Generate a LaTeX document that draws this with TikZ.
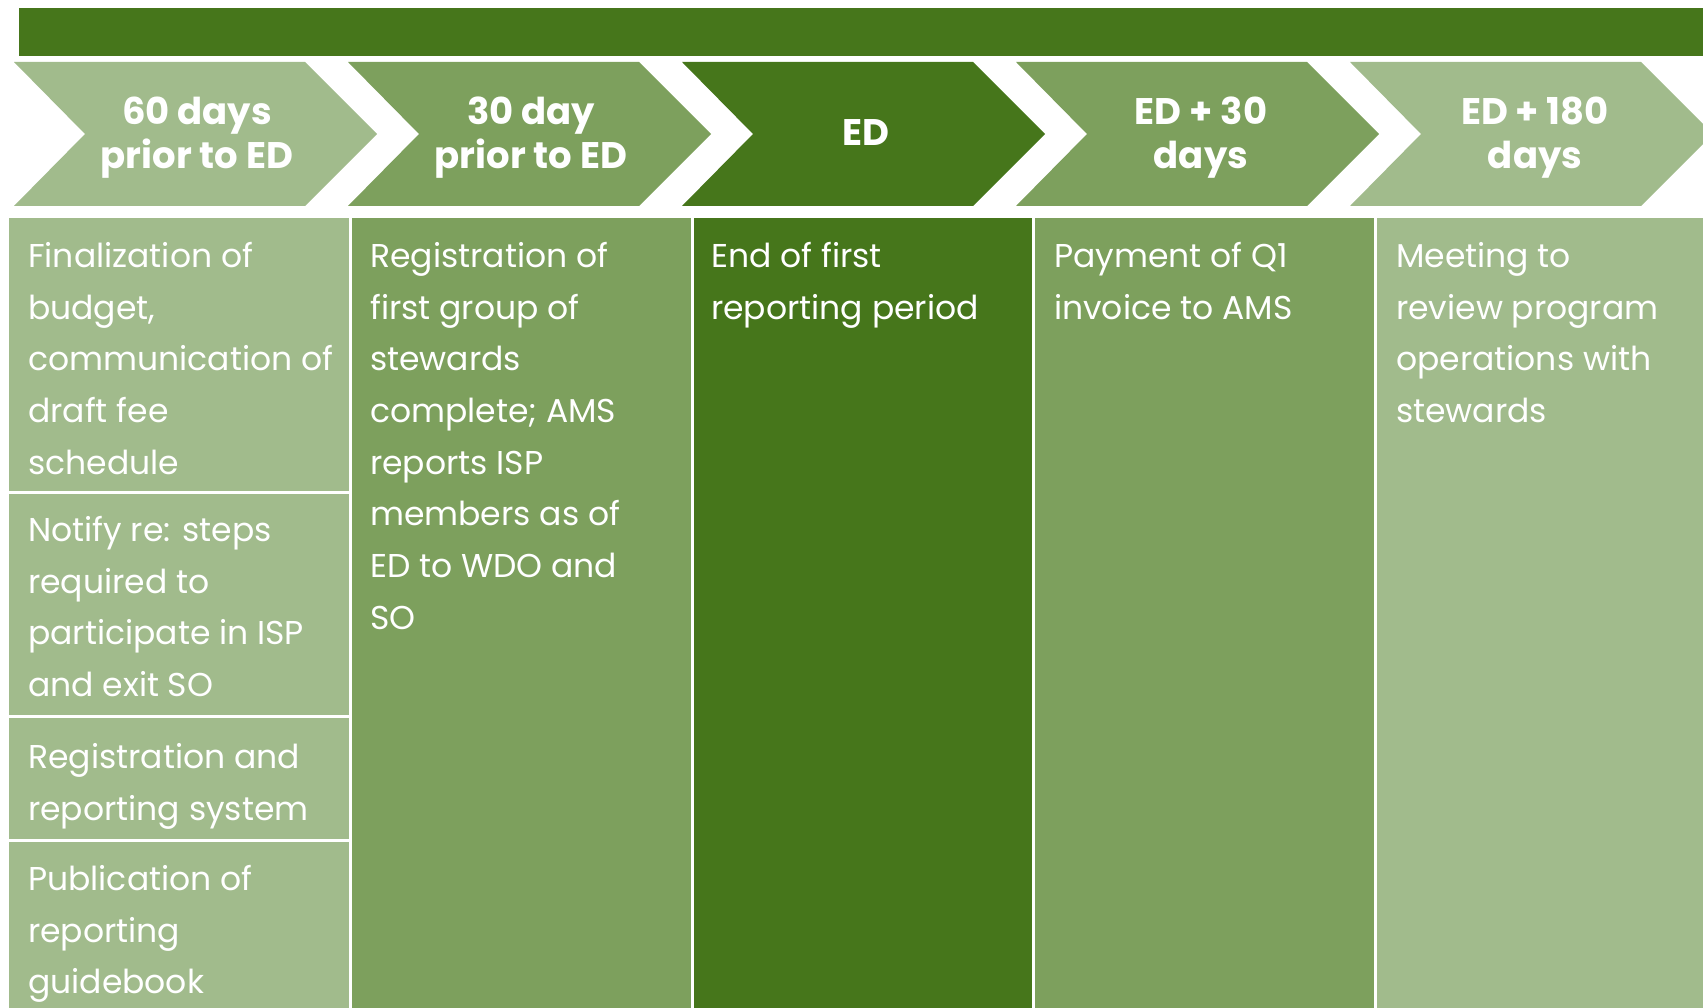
\documentclass[tikz,border=0pt]{standalone}
\usepackage{fontspec}
\setmainfont{Poppins}
\definecolor{wald}{HTML}{46761B}
\definecolor{moos}{HTML}{7DA05D}
\definecolor{salbei}{HTML}{A1BB8C}

\begin{document}
\begin{tikzpicture}[x=1pt, y=-1pt,
      kopf/.style={text=white, align=center, inner sep=0pt,
        font=\bfseries\fontsize{37}{44}\selectfont},
      eintrag/.style={text=white, align=left, anchor=north west, inner sep=0pt,
        font=\fontsize{33}{51.7}\selectfont},
      zelle/.style={draw=white, line width=3pt}]
    \useasboundingbox (0,0) rectangle (1703,1008);
    \clip (0,0) rectangle (1703,1008);
    \fill[wald] (19,8) rectangle (1720,56);
    % pfeilband
    \fill[salbei] (14,62) -- ++(291,0) -- ++(72,72) -- ++(-72,72) -- ++(-291,0) -- ++(71,-72) -- cycle;
    \fill[moos] (348,62) -- ++(291,0) -- ++(72,72) -- ++(-72,72) -- ++(-291,0) -- ++(71,-72) -- cycle;
    \fill[wald] (682,62) -- ++(291,0) -- ++(72,72) -- ++(-72,72) -- ++(-291,0) -- ++(71,-72) -- cycle;
    \fill[moos] (1016,62) -- ++(291,0) -- ++(72,72) -- ++(-72,72) -- ++(-291,0) -- ++(71,-72) -- cycle;
    \fill[salbei] (1350,62) -- ++(291,0) -- ++(72,72) -- ++(-72,72) -- ++(-291,0) -- ++(71,-72) -- cycle;
    \node[kopf] (k1) at (197,137.5) {60 days\\prior to ED};
    \node[kopf] (k2) at (531,137.5) {30 day\\prior to ED};
    \node[kopf] (k3) at (866,133) {ED};
    \node[kopf] (k4) at (1201,137.5) {ED + 30\\days};
    \node[kopf] (k5) at (1535,137.5) {ED + 180\\days};
    % spalten
    \filldraw[zelle, fill=salbei] (7.5,216.5) rectangle (350.5,492);
    \filldraw[zelle, fill=salbei] (7.5,492) rectangle (350.5,716);
    \filldraw[zelle, fill=salbei] (7.5,716) rectangle (350.5,840);
    \filldraw[zelle, fill=salbei] (7.5,840) rectangle (350.5,1012);
    \filldraw[zelle, fill=moos] (350.5,216.5) rectangle (692,1012);
    \filldraw[zelle, fill=wald] (692,216.5) rectangle (1033.5,1012);
    \filldraw[zelle, fill=moos] (1033.5,216.5) rectangle (1375,1012);
    \filldraw[zelle, fill=salbei] (1375,216.5) rectangle (1720,1012);
    \node[eintrag] (e1a) at (28,242) {Finalization of\\budget,\\communication of\\draft fee\\schedule};
    \node[eintrag] (e1b) at (28,516) {Notify re: steps\\required to\\participate in ISP\\and exit SO};
    \node[eintrag] (e1c) at (28,743) {Registration and\\reporting system};
    \node[eintrag] (e1d) at (28,865) {Publication of\\reporting\\guidebook};
    \node[eintrag] (e2) at (370,242) {Registration of\\first group of\\stewards\\complete; AMS\\reports ISP\\members as of\\ED to WDO and\\SO};
    \node[eintrag] (e3) at (711,242) {End of first\\reporting period};
    \node[eintrag] (e4) at (1054,242) {Payment of Q1\\invoice to AMS};
    \node[eintrag] (e5) at (1396,242) {Meeting to\\review program\\operations with\\stewards};
  \end{tikzpicture}
\end{document}
